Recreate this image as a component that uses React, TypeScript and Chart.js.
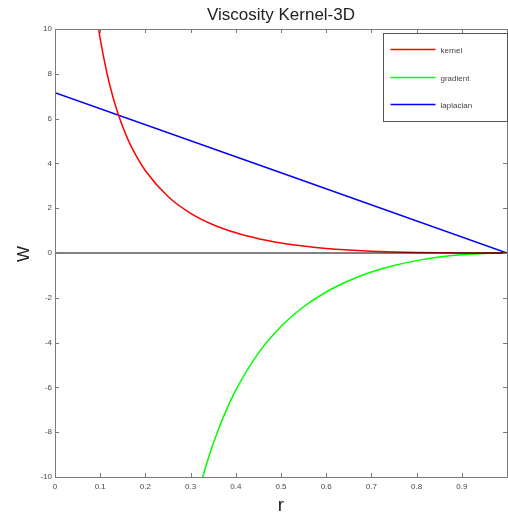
import React, { useEffect, useRef } from "react";
import { Chart, registerables } from "chart.js";

Chart.register(...registerables);

const chartTitle = "Viscosity Kernel-3D";
const xLabel = "r";
const yLabel = "W";

const kernelR = [0.09, 0.1, 0.12, 0.14, 0.16, 0.18, 0.2, 0.25, 0.3, 0.35, 0.4, 0.45, 0.5, 0.55, 0.6, 0.65, 0.7, 0.75, 0.8, 0.85, 0.9, 0.95, 1.0];
const kernelW = [10.89, 9.57, 7.59, 6.18, 5.13, 4.32, 3.67, 2.52, 1.77, 1.26, 0.9, 0.64, 0.45, 0.31, 0.2, 0.13, 0.078, 0.044, 0.022, 0.009, 0.003, 0.0003, 0];

const gradientR = [0.3, 0.32, 0.34, 0.36, 0.38, 0.4, 0.45, 0.5, 0.55, 0.6, 0.65, 0.7, 0.75, 0.8, 0.85, 0.9, 0.95, 1.0];
const gradientW = [-12.15, -10.5, -9.12, -7.96, -6.97, -6.12, -4.47, -3.28, -2.4, -1.74, -1.24, -0.85, -0.56, -0.34, -0.18, -0.077, -0.019, 0];

const laplacianR = [0, 0.5, 1.0];
const laplacianW = [7.16, 3.58, 0];

const zeroR = [0, 1];
const zeroW = [0, 0];

const xTickValues = [0, 0.1, 0.2, 0.3, 0.4, 0.5, 0.6, 0.7, 0.8, 0.9];
const xTickAll = [0, 0.1, 0.2, 0.3, 0.4, 0.5, 0.6, 0.7, 0.8, 0.9, 1.0];

const seriesNames = ["kernel", "gradient", "laplacian"];
const seriesColors = ["#ff0000", "#00ff00", "#0000ff"];

const pts = (xs: number[], ys: number[]) => xs.map((x, i) => ({ x, y: ys[i] }));

const FONT = "Arial, 'Liberation Sans', sans-serif";

const matlabPlugin = {
  id: "matlabFrame",
  afterDatasetsDraw(chart: any) {
    const ctx = chart.ctx;
    const { left, right, top, bottom } = chart.chartArea;
    const xs = chart.scales.x;
    const ys = chart.scales.y;
    ctx.save();
    // frame
    ctx.strokeStyle = "#7a7a7a";
    ctx.lineWidth = 1;
    ctx.strokeRect(Math.round(left) + 0.5, Math.round(top) + 0.5, Math.round(right - left), Math.round(bottom - top));
    // inward ticks
    const tl = 4;
    ctx.beginPath();
    xTickAll.forEach((v) => {
      const px = Math.round(xs.getPixelForValue(v)) + 0.5;
      ctx.moveTo(px, bottom);
      ctx.lineTo(px, bottom - tl);
      ctx.moveTo(px, top);
      ctx.lineTo(px, top + tl);
    });
    ys.ticks.forEach((t: any) => {
      const py = Math.round(ys.getPixelForValue(t.value)) + 0.5;
      ctx.moveTo(left, py);
      ctx.lineTo(left + tl, py);
      ctx.moveTo(right, py);
      ctx.lineTo(right - tl, py);
    });
    ctx.stroke();

    // legend box
    const bw = 124;
    const bh = 88;
    const bx = Math.round(right - bw) + 0.5;
    const by = Math.round(top + 4) + 0.5;
    ctx.fillStyle = "#ffffff";
    ctx.fillRect(bx, by, bw, bh);
    ctx.strokeStyle = "#555555";
    ctx.strokeRect(bx, by, bw, bh);
    const offs = [16, 44, 71];
    ctx.font = "8px " + FONT;
    ctx.textBaseline = "middle";
    ctx.textAlign = "left";
    seriesNames.forEach((name, i) => {
      const yy = by + offs[i];
      ctx.strokeStyle = seriesColors[i];
      ctx.lineWidth = 1.5;
      ctx.beginPath();
      ctx.moveTo(bx + 7, yy);
      ctx.lineTo(bx + 52, yy);
      ctx.stroke();
      ctx.fillStyle = "#444444";
      ctx.fillText(name, bx + 57, yy + 1);
    });

    // title and axis labels
    ctx.fillStyle = "#222222";
    ctx.textAlign = "center";
    ctx.textBaseline = "middle";
    ctx.font = "17px " + FONT;
    ctx.fillText(chartTitle, (left + right) / 2, 15);
    ctx.font = "19px " + FONT;
    ctx.fillText(xLabel, xs.getPixelForValue(0.5), 506);
    ctx.font = "17px " + FONT;
    ctx.translate(24, (top + bottom) / 2 + 1);
    ctx.rotate(-Math.PI / 2);
    ctx.fillText(yLabel, 0, 0);
    ctx.restore();
  },
};

export default function App() {
  const ref = useRef<HTMLCanvasElement | null>(null);
  useEffect(() => {
    document.body.style.margin = "0";
    if (!ref.current) return;
    const lw = 1.5;
    const chart = new Chart(ref.current, {
      type: "line",
      data: {
        datasets: [
          { label: "zero", data: pts(zeroR, zeroW), borderColor: "#000000", borderWidth: 1, pointRadius: 0 },
          { label: seriesNames[0], data: pts(kernelR, kernelW), borderColor: seriesColors[0], borderWidth: lw, pointRadius: 0, cubicInterpolationMode: "monotone" },
          { label: seriesNames[1], data: pts(gradientR, gradientW), borderColor: seriesColors[1], borderWidth: lw, pointRadius: 0, cubicInterpolationMode: "monotone" },
          { label: seriesNames[2], data: pts(laplacianR, laplacianW), borderColor: seriesColors[2], borderWidth: lw, pointRadius: 0 },
        ],
      },
      options: {
        responsive: false,
        animation: false,
        layout: { padding: { top: 29, right: 1, left: 0, bottom: 0 } },
        plugins: { legend: { display: false }, tooltip: { enabled: false }, title: { display: false } },
        scales: {
          x: {
            type: "linear",
            min: 0,
            max: 1,
            grid: { display: false, drawTicks: false },
            border: { display: false },
            afterBuildTicks: (s: any) => {
              s.ticks = xTickValues.map((v) => ({ value: v }));
            },
            afterFit: (s: any) => {
              s.height = 40;
            },
            ticks: {
              padding: 5,
              maxRotation: 0,
              autoSkip: false,
              color: "#4a4a4a",
              font: { size: 8, family: FONT },
              callback: (v: any) => String(v),
            },
          },
          y: {
            type: "linear",
            min: -10,
            max: 10,
            grid: { display: false, drawTicks: false },
            border: { display: false },
            afterFit: (s: any) => {
              s.width = 55;
            },
            ticks: {
              stepSize: 2,
              padding: 3,
              color: "#4a4a4a",
              font: { size: 8, family: FONT },
            },
          },
        },
      },
      plugins: [matlabPlugin],
    } as any);
    return () => chart.destroy();
  }, []);
  return (
    <div style={{ width: 508, height: 517 }}>
      <canvas ref={ref} width={508} height={517} />
    </div>
  );
}
